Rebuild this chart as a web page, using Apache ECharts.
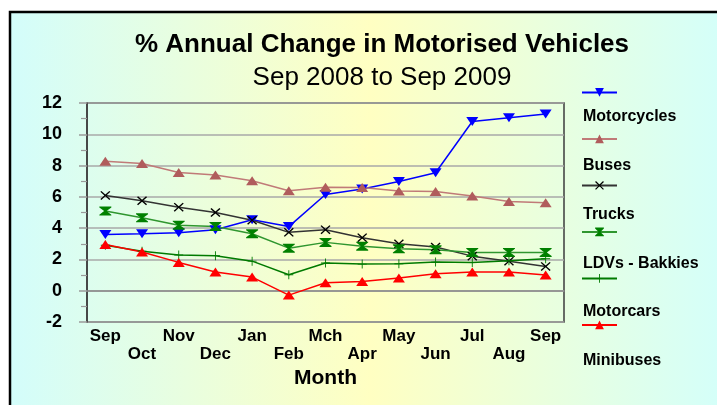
<!DOCTYPE html>
<html>
<head>
<meta charset="utf-8">
<title>% Annual Change in Motorised Vehicles</title>
<script src="https://cdn.jsdelivr.net/npm/echarts@6/dist/echarts.min.js"></script>
<style>
  html, body { margin: 0; padding: 0; background: #fff; }
  #chart { width: 717px; height: 405px; }
</style>
</head>
<body>
<div id="chart"></div>
<script>
// categories and tick labels
const months = ['Sep', 'Oct', 'Nov', 'Dec', 'Jan', 'Feb', 'Mch', 'Apr', 'May', 'Jun', 'Jul', 'Aug', 'Sep'];
const yTicks = { min: -2, max: 12, step: 2 };

// % annual change per vehicle class
const motorcycles = [3.6, 3.64, 3.7, 3.9, 4.54, 4.1, 6.15, 6.5, 6.98, 7.54, 10.82, 11.05, 11.3];
const buses = [8.28, 8.13, 7.56, 7.39, 7.03, 6.39, 6.62, 6.6, 6.37, 6.35, 6.05, 5.7, 5.62];
const trucks = [6.09, 5.75, 5.34, 5.0, 4.51, 3.73, 3.9, 3.39, 3.0, 2.79, 2.21, 1.89, 1.55];
const ldvs = [5.09, 4.66, 4.19, 4.11, 3.64, 2.72, 3.09, 2.85, 2.68, 2.62, 2.45, 2.45, 2.45];
const motorcars = [2.91, 2.53, 2.28, 2.24, 1.89, 1.02, 1.77, 1.7, 1.72, 1.83, 1.81, 1.92, 2.04];
const minibuses = [2.96, 2.47, 1.81, 1.19, 0.87, -0.28, 0.51, 0.59, 0.81, 1.09, 1.19, 1.19, 1.0];

const FONT = "'Liberation Sans', Arial, sans-serif";

// marker shapes
const CROSS = 'path://M0,1L1,0L5,4L9,0L10,1L6,5L10,9L9,10L5,6L1,10L0,9L4,5Z';
const HOURGLASS = 'path://M0,0L10,0L10,1L6,5L10,9L10,10L0,10L0,9L4,5L0,1Z';
const PLUS = 'path://M4.5,0H5.5V4.5H10V5.5H5.5V10H4.5V5.5H0V4.5H4.5Z';

const seriesDefs = [
    { name: 'Motorcycles', data: motorcycles, color: '#0000ff', line: '#0000ff', symbol: 'triangle', size: [12, 9], rotate: 180 },
    { name: 'Buses', data: buses, color: '#b05c5c', line: '#c07a78', symbol: 'triangle', size: [12, 9] },
    { name: 'Trucks', data: trucks, color: '#000000', line: '#333333', symbol: CROSS, size: [10, 9] },
    { name: 'LDVs - Bakkies', data: ldvs, color: '#008000', line: '#2f962f', symbol: HOURGLASS, size: [12, 9] },
    { name: 'Motorcars', data: motorcars, color: '#007a00', line: '#007a00', symbol: PLUS, size: [9, 9] },
    { name: 'Minibuses', data: minibuses, color: '#ff0000', line: '#ff0000', symbol: 'triangle', size: [12, 9] }
];

const names = seriesDefs.map(s => s.name);

const chart = echarts.init(document.getElementById('chart'));

const option = {
    animation: false,
    textStyle: { fontFamily: FONT },
    graphic: [
        {
            type: 'rect',
            z: -10,
            silent: true,
            shape: { x: 10, y: 12, width: 720, height: 400 },
            style: {
                fill: new echarts.graphic.LinearGradient(0, 0, 1, 0, [
                    { offset: 0, color: '#d3fdfb' },
                    { offset: 0.5, color: '#ffffc2' },
                    { offset: 1, color: '#d3fffb' }
                ]),
                stroke: '#000',
                lineWidth: 2.5
            }
        }
    ],
    title: [
        {
            text: '% Annual Change in Motorised Vehicles',
            left: 377,
            top: 27,
            textAlign: 'center',
            textStyle: { fontFamily: FONT, fontSize: 26, fontWeight: 'bold', color: '#000' }
        },
        {
            text: 'Sep 2008 to Sep 2009',
            left: 377,
            top: 60,
            textAlign: 'center',
            textStyle: { fontFamily: FONT, fontSize: 26, fontWeight: 'normal', color: '#000' }
        }
    ],
    // two legends: icons on one row, names on the row under them
    legend: [
        {
            orient: 'vertical',
            left: 581,
            top: 88,
            padding: 0,
            itemWidth: 35,
            itemHeight: 11,
            itemGap: 37.7,
            selectedMode: false,
            data: names,
            formatter: () => '',
            textStyle: { fontSize: 10, lineHeight: 11 }
        },
        {
            orient: 'vertical',
            left: 578,
            top: 108,
            padding: 0,
            icon: 'rect',
            itemWidth: 0,
            itemHeight: 0,
            itemGap: 30.7,
            selectedMode: false,
            itemStyle: { opacity: 0 },
            data: names,
            textStyle: { fontFamily: FONT, fontSize: 16, fontWeight: 'bold', lineHeight: 18, color: '#000' }
        }
    ],
    grid: {
        left: 87,
        right: 153,
        top: 103,
        bottom: 83,
        show: true,
        borderColor: '#3c3c3c',
        borderWidth: 1.5,
        backgroundColor: 'transparent'
    },
    xAxis: {
        type: 'category',
        data: months,
        boundaryGap: true,
        name: 'Month',
        nameLocation: 'middle',
        nameGap: 44,
        nameTextStyle: { fontFamily: FONT, fontSize: 21, fontWeight: 'bold', color: '#000' },
        axisLine: { lineStyle: { color: '#8a8a8a', width: 1.5 } },
        axisTick: { alignWithLabel: true, inside: true, length: 6, lineStyle: { color: '#8a8a8a', width: 1.2 } },
        axisLabel: {
            interval: 0,
            margin: 5,
            fontFamily: FONT,
            fontSize: 17,
            fontWeight: 'bold',
            lineHeight: 18,
            color: '#000',
            formatter: (v, i) => (i % 2 ? '\n' + v : v)
        },
        splitLine: { show: false }
    },
    yAxis: {
        type: 'value',
        min: yTicks.min,
        max: yTicks.max,
        interval: yTicks.step,
        axisLine: { show: true, lineStyle: { color: '#3c3c3c', width: 1.5 } },
        axisTick: { show: true, length: 8, lineStyle: { color: '#9a9a9a', width: 1.5 } },
        minorTick: { show: true, splitNumber: 2, length: 6, lineStyle: { color: '#9a9a9a', width: 1.2 } },
        axisLabel: { margin: 25, fontFamily: FONT, fontSize: 18, fontWeight: 'bold', color: '#000' },
        splitLine: { lineStyle: { color: '#a8a8a8', width: 1.5 } }
    },
    series: seriesDefs.map(s => ({
        name: s.name,
        type: 'line',
        data: s.data,
        symbol: s.symbol,
        symbolSize: s.size,
        symbolRotate: s.rotate || 0,
        itemStyle: { color: s.color },
        lineStyle: { color: s.line, width: 1.5 }
    }))
};

chart.setOption(option);
</script>
</body>
</html>
